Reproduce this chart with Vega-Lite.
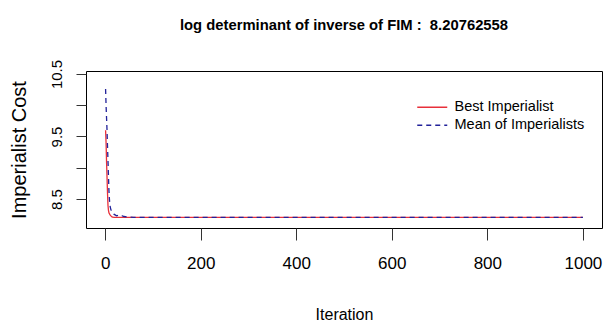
{
  "$schema": "https://vega.github.io/schema/vega-lite/v6.json",
  "width": 516,
  "height": 157,
  "autosize": "none",
  "padding": {"left": 86, "top": 71, "right": 4, "bottom": 99},
  "background": "white",
  "title": {
    "text": "log determinant of inverse of FIM :\u00a0 8.20762558",
    "font": "Liberation Sans",
    "fontSize": 14.8,
    "fontWeight": "bold",
    "color": "#000000",
    "anchor": "middle",
    "offset": 27
  },
  "config": {
    "view": {"stroke": "#000000", "strokeWidth": 1},
    "axis": {
      "grid": false,
      "domain": false,
      "tickColor": "#333333",
      "labelColor": "#000000",
      "titleColor": "#000000",
      "labelFont": "Liberation Sans",
      "titleFont": "Liberation Sans",
      "titleFontWeight": "normal"
    }
  },
  "data": {
    "values": [
      {"iter": 1, "cost": 9.6, "series": "Best Imperialist"},
      {"iter": 2, "cost": 9.4, "series": "Best Imperialist"},
      {"iter": 3, "cost": 9.1, "series": "Best Imperialist"},
      {"iter": 4, "cost": 8.85, "series": "Best Imperialist"},
      {"iter": 5, "cost": 8.6, "series": "Best Imperialist"},
      {"iter": 6, "cost": 8.4, "series": "Best Imperialist"},
      {"iter": 7, "cost": 8.32, "series": "Best Imperialist"},
      {"iter": 8, "cost": 8.28, "series": "Best Imperialist"},
      {"iter": 10, "cost": 8.25, "series": "Best Imperialist"},
      {"iter": 12, "cost": 8.23, "series": "Best Imperialist"},
      {"iter": 15, "cost": 8.21, "series": "Best Imperialist"},
      {"iter": 18, "cost": 8.2076, "series": "Best Imperialist"},
      {"iter": 1000, "cost": 8.2076, "series": "Best Imperialist"},
      {"iter": 1, "cost": 10.26, "series": "Mean of Imperialists"},
      {"iter": 2, "cost": 10.0, "series": "Mean of Imperialists"},
      {"iter": 3, "cost": 9.8, "series": "Mean of Imperialists"},
      {"iter": 4, "cost": 9.6, "series": "Mean of Imperialists"},
      {"iter": 5, "cost": 9.35, "series": "Mean of Imperialists"},
      {"iter": 6, "cost": 9.12, "series": "Mean of Imperialists"},
      {"iter": 7, "cost": 8.88, "series": "Mean of Imperialists"},
      {"iter": 8, "cost": 8.64, "series": "Mean of Imperialists"},
      {"iter": 9, "cost": 8.5, "series": "Mean of Imperialists"},
      {"iter": 10, "cost": 8.4, "series": "Mean of Imperialists"},
      {"iter": 12, "cost": 8.33, "series": "Mean of Imperialists"},
      {"iter": 15, "cost": 8.29, "series": "Mean of Imperialists"},
      {"iter": 18, "cost": 8.26, "series": "Mean of Imperialists"},
      {"iter": 20, "cost": 8.25, "series": "Mean of Imperialists"},
      {"iter": 24, "cost": 8.23, "series": "Mean of Imperialists"},
      {"iter": 28, "cost": 8.24, "series": "Mean of Imperialists"},
      {"iter": 32, "cost": 8.225, "series": "Mean of Imperialists"},
      {"iter": 36, "cost": 8.23, "series": "Mean of Imperialists"},
      {"iter": 40, "cost": 8.22, "series": "Mean of Imperialists"},
      {"iter": 45, "cost": 8.215, "series": "Mean of Imperialists"},
      {"iter": 50, "cost": 8.21, "series": "Mean of Imperialists"},
      {"iter": 60, "cost": 8.2076, "series": "Mean of Imperialists"},
      {"iter": 1000, "cost": 8.2076, "series": "Mean of Imperialists"}
    ]
  },
  "mark": {"type": "line", "strokeWidth": 1.3, "clip": true},
  "encoding": {
    "x": {
      "field": "iter",
      "type": "quantitative",
      "scale": {"domain": [-40, 1040], "nice": false, "zero": false},
      "axis": {
        "values": [0, 200, 400, 600, 800, 1000],
        "format": "d",
        "title": "Iteration",
        "tickSize": 12,
        "labelPadding": 15,
        "labelFontSize": 17,
        "titleFontSize": 16,
        "titlePadding": 35,
        "labelFlush": false,
        "labelOverlap": false
      }
    },
    "y": {
      "field": "cost",
      "type": "quantitative",
      "scale": {"domain": [8.036, 10.548], "nice": false, "zero": false},
      "axis": {
        "values": [8.5, 9, 9.5, 10, 10.5],
        "labelExpr": "datum.value == 8.5 || datum.value == 9.5 || datum.value == 10.5 ? datum.label : ''",
        "title": "Imperialist Cost",
        "titleFont": "Liberation Sans",
        "titleFontSize": 20,
        "titleX": -67,
        "titleY": 78.5,
        "titleAlign": "center",
        "titleBaseline": "middle",
        "titleAngle": -90,
        "tickSize": 10,
        "labelAngle": -90,
        "labelAlign": "center",
        "labelBaseline": "bottom",
        "labelPadding": 12,
        "labelFontSize": 15,
        "labelFlush": false,
        "labelOverlap": false
      }
    },
    "color": {
      "field": "series",
      "type": "nominal",
      "scale": {"domain": ["Best Imperialist", "Mean of Imperialists"], "range": ["#e8303a", "#22229a"]},
      "legend": {
        "title": null,
        "orient": "none",
        "legendX": 339,
        "legendY": 29,
        "symbolType": "M-3,0H3",
        "symbolSize": 100,
        "symbolStrokeWidth": 1.3,
        "symbolFillColor": "transparent",
        "labelFont": "Liberation Sans",
        "labelFontSize": 14.5,
        "labelColor": "#000000",
        "labelOffset": 15,
        "rowPadding": 3,
        "padding": 0
      }
    },
    "strokeDash": {
      "field": "series",
      "type": "nominal",
      "scale": {"domain": ["Best Imperialist", "Mean of Imperialists"], "range": [[1, 0], [5, 4]]},
      "legend": {
        "title": null,
        "orient": "none",
        "legendX": 339,
        "legendY": 29,
        "symbolType": "M-3,0H3",
        "symbolSize": 100,
        "symbolStrokeWidth": 1.3,
        "symbolFillColor": "transparent",
        "labelFont": "Liberation Sans",
        "labelFontSize": 14.5,
        "labelColor": "#000000",
        "labelOffset": 15,
        "rowPadding": 3,
        "padding": 0
      }
    },
    "order": {"field": "iter", "type": "quantitative"}
  }
}
